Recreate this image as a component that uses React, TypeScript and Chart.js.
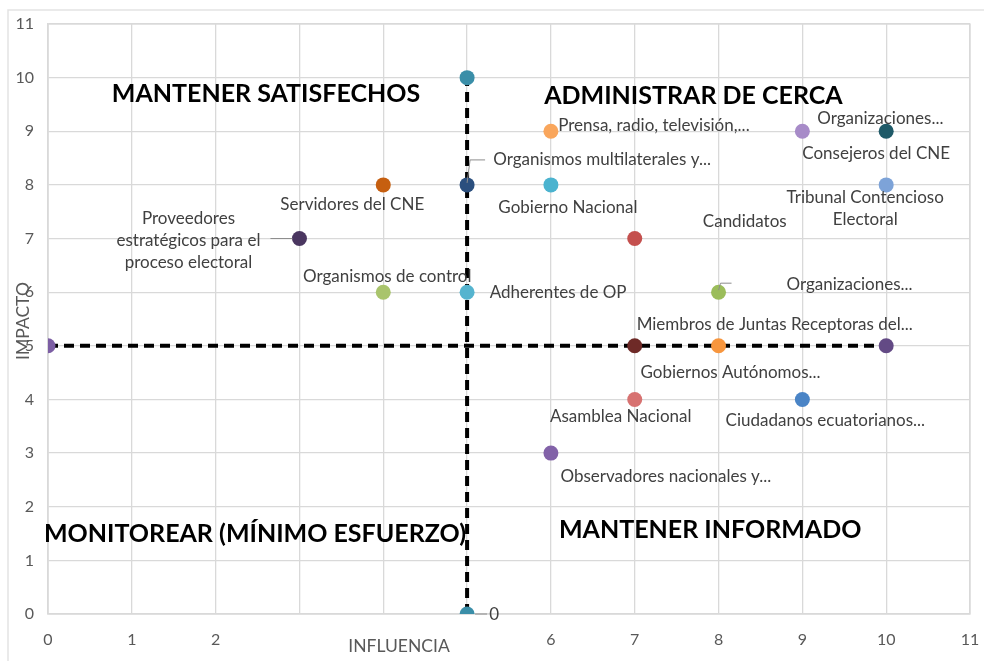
import React, { useEffect, useRef } from "react";
import { Chart, registerables } from "chart.js";

Chart.register(...registerables);

// ---- data ----
const stakeholders: string[] = [
  "Proveedores\nestratégicos para el\nproceso electoral",
  "Servidores del CNE",
  "Organismos de control",
  "Organismos multilaterales y...",
  "Adherentes de OP",
  "0",
  "Prensa, radio, televisión,...",
  "Gobierno Nacional",
  "Observadores nacionales y...",
  "Candidatos",
  "Miembros de Juntas Receptoras del...",
  "Asamblea Nacional",
  "Organizaciones...",
  "Gobiernos Autónomos...",
  "Organizaciones...",
  "Ciudadanos ecuatorianos...",
  "Consejeros del CNE",
  "Tribunal Contencioso\nElectoral",
  "",
  "",
  "",
];
const influence: number[] = [3, 4, 4, 5, 5, 5, 6, 6, 6, 7, 7, 7, 8, 8, 9, 9, 10, 10, 0, 5, 10];
const impact: number[] = [7, 8, 6, 8, 6, 0, 9, 8, 3, 7, 5, 4, 6, 5, 9, 4, 9, 8, 5, 10, 5];

const xTicks: number[] = [0, 1, 2, 3, 4, 5, 6, 7, 8, 9, 10, 11];
const hiddenXTicks: number[] = [3, 4, 5];

const dividerX: number[] = [5, 5];
const dividerXY: number[] = [0, 10];
const dividerY: number[] = [5, 5];
const dividerYX: number[] = [0, 10];

const quadrantLabels: string[] = [
  "MANTENER SATISFECHOS",
  "ADMINISTRAR DE CERCA",
  "MONITOREAR (MÍNIMO ESFUERZO)",
  "MANTENER INFORMADO",
];
const quadrantAnchorX: number[] = [2.6, 7.7, 2.47, 7.9];
const quadrantAnchorY: number[] = [9.7, 9.66, 1.5, 1.57];

const xTitle = "INFLUENCIA";
const yTitle = "IMPACTO";

// ---- styles ----
const pointColors: string[] = [
  "#4a3660", "#c65f10", "#a9c46c", "#2b4f7e", "#55b4cf", "#3a8ea8",
  "#f9a65c", "#4bb3cf", "#8262a8", "#c4504e", "#6e2a27", "#d77271",
  "#9bbd5a", "#f7963e", "#a78bc8", "#4a84c6", "#1f5a68", "#7da3d8",
  "#7c5ea4", "#3a8ea8", "#634a85",
];
// label offsets in pixels from point [dx, dy]
const labelOffsets: number[][] = [
  [-111, 2], [-31, 20], [4, -16], [135, -25], [91, 0], [27, 1],
  [103, -6], [17, 23], [115, 23], [110, -17], [140, -21], [-14, 17],
  [131, -8], [12, 27], [78, -13], [23, 21], [-10, 22], [-21, 24],
  [0, 0], [0, 0], [0, 0],
];
// leader lines: index -> polyline offsets from point
const leaders: Record<number, number[][]> = {
  0: [[-29, 0], [-7, 0]],
  3: [[0, -2], [3, -25], [18, -25]],
  5: [[8, 0], [20, 0]],
  12: [[0, -2], [2, -9], [13, -9]],
};

const LABEL_FONT = "17px Lato, 'Open Sans', sans-serif";
const TITLE_FONT = "17.5px Lato, sans-serif";

const overlayPlugin = {
  id: "overlay",
  beforeDraw(chart: any) {
    const ctx = chart.ctx;
    ctx.save();
    ctx.strokeStyle = "#e3e3e3";
    ctx.lineWidth = 1.5;
    ctx.beginPath();
    ctx.moveTo(8, 661);
    ctx.lineTo(8, 10);
    ctx.lineTo(984, 10);
    ctx.stroke();
    ctx.restore();
  },
  afterDatasetsDraw(chart: any) {
    const ctx = chart.ctx;
    const xs = chart.scales.x;
    const ys = chart.scales.y;
    ctx.save();
    // leader lines
    ctx.strokeStyle = "#8c8c8c";
    ctx.lineWidth = 1;
    Object.keys(leaders).forEach((k) => {
      const i = Number(k);
      const px = xs.getPixelForValue(influence[i]);
      const py = ys.getPixelForValue(impact[i]);
      const pts = leaders[i];
      ctx.beginPath();
      pts.forEach((p, j) => {
        if (j === 0) ctx.moveTo(px + p[0], py + p[1]);
        else ctx.lineTo(px + p[0], py + p[1]);
      });
      ctx.stroke();
    });
    // data labels
    ctx.font = LABEL_FONT;
    ctx.fillStyle = "#404040";
    ctx.textAlign = "center";
    ctx.textBaseline = "middle";
    const lh = 22;
    stakeholders.forEach((name, i) => {
      if (!name) return;
      const px = xs.getPixelForValue(influence[i]);
      const py = ys.getPixelForValue(impact[i]);
      const lines = name.split("\n");
      const cx = px + labelOffsets[i][0];
      const cy = py + labelOffsets[i][1];
      lines.forEach((ln, j) => {
        ctx.fillText(ln, cx, cy + (j - (lines.length - 1) / 2) * lh);
      });
    });
    // quadrant labels
    ctx.font = "bold 25px Lato, sans-serif";
    ctx.fillStyle = "#000000";
    quadrantLabels.forEach((q, i) => {
      ctx.fillText(q, xs.getPixelForValue(quadrantAnchorX[i]), ys.getPixelForValue(quadrantAnchorY[i]));
    });
    // axis titles
    ctx.font = TITLE_FONT;
    ctx.fillStyle = "#595959";
    ctx.fillText(xTitle, 399, 646);
    ctx.save();
    ctx.translate(23, 321);
    ctx.rotate(-Math.PI / 2);
    ctx.fillText(yTitle, 0, 0);
    ctx.restore();
    ctx.restore();
  },
};

export default function App() {
  const ref = useRef<HTMLCanvasElement | null>(null);
  useEffect(() => {
    if (!ref.current) return;
    const scatterData = influence.map((x, i) => ({ x, y: impact[i] }));
    const chart = new Chart(ref.current, {
      type: "scatter",
      data: {
        datasets: [
          {
            label: "Actores",
            data: scatterData,
            pointRadius: 7.5,
            pointHoverRadius: 7.5,
            pointBackgroundColor: pointColors,
            pointBorderWidth: 0,
            borderWidth: 0,
            order: 1,
          },
          {
            label: "v",
            data: dividerX.map((x, i) => ({ x, y: dividerXY[i] })),
            showLine: true,
            borderColor: "#000",
            borderWidth: 4,
            borderDash: [10, 6],
            pointRadius: 0,
            order: 2,
          },
          {
            label: "h",
            data: dividerYX.map((x, i) => ({ x, y: dividerY[i] })),
            showLine: true,
            borderColor: "#000",
            borderWidth: 4,
            borderDash: [10, 6],
            pointRadius: 0,
            order: 2,
          },
        ],
      },
      options: {
        animation: false,
        responsive: false,
        layout: { padding: { left: 0, top: 24, right: 14, bottom: 0 } },
        plugins: { legend: { display: false }, tooltip: { enabled: false } },
        scales: {
          x: {
            type: "linear",
            min: 0,
            max: 11,
            afterBuildTicks: (s: any) => {
              s.ticks = xTicks.map((v) => ({ value: v }));
            },
            afterFit: (s: any) => {
              s.height = 47;
              s.paddingLeft = 0;
              s.paddingRight = 0;
            },
            ticks: {
              font: { family: "Lato", size: 16 },
              color: "#595959",
              padding: 16,
              maxRotation: 0,
              callback: (v: any) => (hiddenXTicks.includes(Number(v)) ? "" : String(v)),
            },
            grid: { color: "#d9d9d9", lineWidth: 1.3, drawTicks: false },
            border: { color: "#d9d9d9", width: 1.3 },
          },
          y: {
            type: "linear",
            min: 0,
            max: 11,
            afterFit: (s: any) => {
              s.width = 48;
              s.paddingTop = 0;
              s.paddingBottom = 0;
            },
            ticks: {
              stepSize: 1,
              font: { family: "Lato", size: 16 },
              color: "#595959",
              padding: 14,
            },
            grid: { color: "#d9d9d9", lineWidth: 1.3, drawTicks: false },
            border: { color: "#d9d9d9", width: 1.3 },
          },
        },
      },
      plugins: [
        overlayPlugin,
        {
          id: "plotBorder",
          beforeDatasetsDraw(chart: any) {
            const { ctx, chartArea } = chart;
            ctx.save();
            ctx.strokeStyle = "#d9d9d9";
            ctx.lineWidth = 1.3;
            ctx.strokeRect(chartArea.left, chartArea.top, chartArea.right - chartArea.left, chartArea.bottom - chartArea.top);
            ctx.restore();
          },
        },
      ],
    });
    return () => chart.destroy();
  }, []);
  return (
    <div style={{ position: "fixed", left: 0, top: 0, width: 984, height: 661, background: "#fff" }}>
      <canvas ref={ref} width={984} height={661} style={{ display: "block" }} />
    </div>
  );
}
